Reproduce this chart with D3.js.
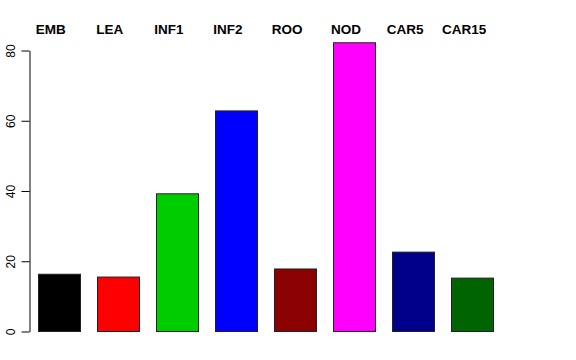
<!DOCTYPE html>
<html>
<head>
<meta charset="utf-8">
<script src="https://cdn.jsdelivr.net/npm/d3@7"></script>
<style>
  body { margin: 0; background: #fff; }
  svg { display: block; font-family: "Liberation Sans", Arial, sans-serif; }
</style>
</head>
<body>
<div id="chart"></div>
<script>
// values
var categories = ["EMB", "LEA", "INF1", "INF2", "ROO", "NOD", "CAR5", "CAR15"];
var values = [16.3, 15.5, 39.2, 62.8, 17.8, 82.2, 22.6, 15.2];
var colors = ["#000000", "#ff0000", "#00cd00", "#0000ff", "#8b0000", "#ff00ff", "#00008b", "#006400"];
var yTicks = [0, 20, 40, 60, 80];

var width = 576, height = 360;

var svg = d3.select("#chart")
  .append("svg")
  .attr("width", width)
  .attr("height", height);

var x = d3.scaleBand()
  .domain(categories)
  .range([29, 502])
  .paddingInner(0.29)
  .paddingOuter(0.15);

var y = d3.scaleLinear()
  .domain([0, 80])
  .range([331.5, 50.5]);

// bars
svg.append("g")
  .selectAll("rect")
  .data(categories)
  .join("rect")
    .attr("x", d => Math.round(x(d)) + 0.5)
    .attr("y", (d, i) => y(values[i]))
    .attr("width", Math.round(x.bandwidth()))
    .attr("height", (d, i) => y(0) - y(values[i]))
    .attr("fill", (d, i) => colors[i])
    .attr("stroke", "#222")
    .attr("stroke-width", 1);

// category labels on top
svg.append("g")
  .selectAll("text")
  .data(categories)
  .join("text")
    .attr("x", d => x(d) + x.bandwidth() / 2 - 8)
    .attr("y", 34)
    .attr("text-anchor", "middle")
    .attr("font-weight", "bold")
    .attr("font-size", 13.5)
    .text(d => d);

// y axis
var yAxis = d3.axisLeft(y)
  .tickValues(yTicks)
  .tickSize(8)
  .tickPadding(5)
  .tickSizeOuter(0);

var gy = svg.append("g")
  .attr("transform", "translate(29.5,0)")
  .call(yAxis);

gy.select(".domain").attr("stroke", "#000");
gy.selectAll(".tick line").attr("stroke", "#000");
gy.selectAll(".tick text")
  .attr("font-size", 12)
  .attr("fill", "#000")
  .attr("font-family", "Liberation Sans, Arial, sans-serif")
  .attr("text-anchor", "middle")
  .attr("dy", null)
  .attr("x", null)
  .attr("transform", "translate(-15,0) rotate(-90)");
</script>
</body>
</html>
